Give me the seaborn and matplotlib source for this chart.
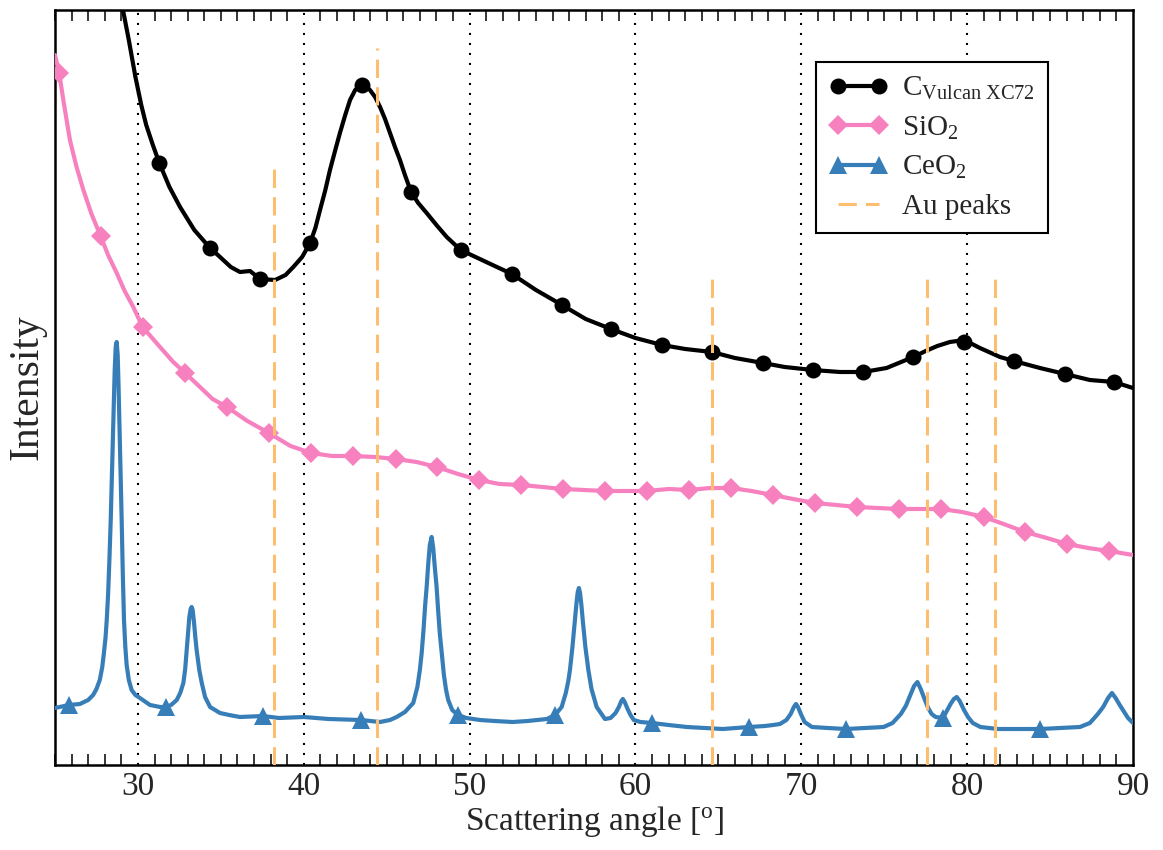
import matplotlib
matplotlib.use("Agg")
import matplotlib.pyplot as plt
import seaborn as sns
import pandas as pd
from matplotlib.lines import Line2D
from matplotlib.ticker import MultipleLocator

# ---------------- data ----------------
# C Vulcan XC72
c_x = [25.0, 26.0, 27.0, 28.0, 28.5, 29.1, 29.45, 29.85, 30.2, 30.5, 30.9, 31.29, 31.9,
       32.54, 33.4, 34.35, 34.95, 35.6, 36.15, 36.76, 37.36, 38.27, 38.9, 39.37, 39.9,
       40.38, 40.7, 40.98, 41.3, 41.58, 41.9, 42.18, 42.5, 42.79, 43.1, 43.49, 43.75,
       43.99, 44.3, 44.6, 44.9, 45.2, 45.5, 45.8, 46.1, 46.47, 46.9, 47.41, 48.0, 48.62,
       49.46, 51.0, 52.55, 54.0, 55.57, 57.0, 58.52, 60.0, 61.6, 63.0, 64.61, 66.0, 67.69,
       69.0, 70.7, 72.33, 73.74, 75.14, 76.75, 77.5, 78.2, 78.96, 79.4, 79.81, 80.3,
       80.77, 81.98, 82.82, 84.39, 85.9, 87.4, 88.85, 90.0]
c_y = [1500, 1250, 1050, 890, 820, 755, 725, 688, 660, 640, 620, 602, 578,
       558, 535, 517, 508, 498, 493, 494, 486, 485, 490, 498, 508,
       522, 537, 555, 575, 595, 615, 632, 650, 665, 675, 680, 679,
       675, 668, 658, 646, 632, 618, 605, 590, 573, 562, 552, 540, 528,
       515, 503, 491, 475, 460, 446, 436, 427, 420, 416, 413, 407, 402,
       398, 395, 393, 393, 397, 408, 414, 419, 423, 424, 423, 421,
       417, 408, 404, 397, 391, 385, 383, 377]
c_marks = [31.29, 34.35, 37.36, 40.38, 43.49, 46.47, 49.46, 52.55, 55.57, 58.52, 61.6,
           64.61, 67.69, 70.7, 73.74, 76.75, 79.81, 82.82, 85.9, 88.85]

# SiO2
s_x = [25.0, 25.25, 25.55, 25.9, 26.3, 26.71, 27.2, 27.75, 28.2, 28.72, 29.2, 29.72, 30.28,
       31.33, 32.13, 32.85, 33.74, 34.5, 35.37, 36.6, 37.9, 39.2, 40.44, 41.7, 42.97,
       44.3, 45.56, 46.8, 48.03, 49.3, 50.57, 51.8, 53.1, 54.4, 55.63, 56.9, 58.16, 59.4,
       60.69, 62.0, 63.23, 64.5, 65.76, 67.0, 68.29, 69.5, 70.82, 72.1, 73.36, 74.6,
       75.89, 77.2, 78.42, 79.7, 81.01, 82.2, 83.49, 84.8, 86.02, 87.3, 88.55, 90.0]
s_y = [710, 692, 660, 625, 598, 575, 551, 529, 510, 492, 474, 458, 438,
       418, 403, 392, 378, 366, 358, 344, 332, 319, 312, 309, 309,
       308, 306, 303, 298, 291, 285, 281, 280, 278, 276, 275, 274, 274,
       274, 276, 275, 277, 277, 274, 270, 266, 262, 260, 258, 257,
       256, 256, 256, 253, 248, 241, 233, 227, 221, 217, 214, 210]
s_marks = [25.25, 27.75, 30.28, 32.85, 35.37, 37.9, 40.44, 42.97, 45.56, 48.03, 50.57,
           53.1, 55.63, 58.16, 60.69, 63.23, 65.76, 68.29, 70.82, 73.36, 75.89, 78.42,
           81.01, 83.49, 86.02, 88.55]

# CeO2
e_x = [25.0, 25.84, 26.5, 27.0, 27.3, 27.5, 27.7, 27.85, 27.95, 28.05, 28.12, 28.2, 28.28,
       28.36, 28.44, 28.52, 28.6, 28.66, 28.72, 28.78, 28.83, 28.88, 28.95, 29.02, 29.09,
       29.16, 29.24, 29.32, 29.45, 29.62, 29.85, 30.12, 30.73, 31.33, 31.69, 32.0, 32.34,
       32.55, 32.74, 32.85, 32.94, 33.02, 33.1, 33.18, 33.24, 33.3, 33.38, 33.46, 33.54,
       33.7, 33.85, 34.05, 34.35, 34.95, 35.5, 36.15, 37.54, 38.5, 40.0, 41.5, 43.45,
       44.6, 45.2, 45.6, 46.1, 46.6, 46.85, 47.0, 47.11, 47.22, 47.32, 47.41, 47.5, 47.6,
       47.71, 47.8, 47.9, 48.01, 48.1, 48.2, 48.32, 48.45, 48.58, 48.71, 48.95, 49.3,
       49.8, 50.63, 51.5, 52.6, 53.5, 54.66, 55.15, 55.55, 55.8, 55.95, 56.05, 56.2,
       56.35, 56.45, 56.52, 56.59, 56.66, 56.74, 56.82, 56.98, 57.16, 57.35, 57.66,
       58.16, 58.5, 58.8, 59.0, 59.15, 59.24, 59.35, 59.5, 59.7, 59.9, 60.3, 61.0, 62.0,
       63.1, 64.2, 65.27, 66.84, 67.8, 68.3, 68.71, 69.1, 69.36, 69.55, 69.68, 69.8,
       70.0, 70.2, 70.64, 71.6, 72.69, 73.8, 74.96, 75.5, 76.0, 76.3, 76.55, 76.8, 77.0,
       77.2, 77.43, 77.65, 77.86, 78.1, 78.54, 78.8, 79.0, 79.2, 79.37, 79.55, 79.81,
       80.05, 80.34, 80.8, 81.85, 83.0, 84.39, 85.6, 86.8, 87.4, 87.88, 88.2, 88.5,
       88.73, 88.95, 89.2, 89.39, 89.7, 90.0]
e_y = [57, 60, 61, 65, 70, 76, 85, 98, 112, 128, 145, 170, 205,
       245, 295, 345, 395, 418, 423, 410, 380, 345, 295, 245, 190,
       145, 118, 100, 85, 75, 70, 67, 60, 58, 58, 60, 65,
       72, 82, 96, 115, 132, 148, 156, 158, 155, 143, 128, 115,
       95, 82, 68, 58, 52, 50, 48, 49, 47, 48, 46, 45,
       43, 45, 48, 53, 62, 78, 95, 112, 135, 160, 178, 200, 220,
       228, 218, 198, 178, 155, 132, 112, 90, 75, 65, 55, 50,
       47, 45, 44, 43, 44, 46, 50, 58, 72, 84, 95, 118,
       145, 163, 173, 177, 172, 160, 145, 118, 95, 76, 58,
       46, 47, 52, 58, 64, 66, 63, 57, 50, 45, 43, 42, 40,
       38, 37, 36, 38, 39, 40, 41, 45, 51, 58, 61, 58,
       50, 43, 38, 37, 36, 37, 38, 42, 51, 59, 69, 79, 83,
       76, 66, 57, 51, 48, 47, 55, 61, 66, 68, 64, 55,
       48, 42, 38, 36, 36, 36, 37, 38, 42, 51, 58, 67,
       72, 67, 60, 55, 47, 42]
e_marks = [25.84, 31.69, 37.54, 43.45, 49.3, 55.15, 61.0, 66.84, 72.69, 78.54, 84.39]

# Au reference peaks
au_x = [38.2, 44.4, 64.6, 77.6, 81.7]
au_h = [597, 717, 490, 490, 490]

grid_x = [30, 40, 50, 60, 70, 80]
labels = [r"C$_{\rm Vulcan\ XC72}$", r"SiO$_2$", r"CeO$_2$", "Au peaks"]

# ---------------- style ----------------
sns.set_style("ticks")
plt.rcParams['font.family'] = ['Liberation Serif', 'DejaVu Serif']
plt.rcParams['mathtext.fontset'] = 'custom'
plt.rcParams['mathtext.rm'] = 'Liberation Serif'
plt.rcParams['mathtext.it'] = 'Liberation Serif:italic'
plt.rcParams['mathtext.bf'] = 'Liberation Serif:bold'

col_c = "black"
col_s = "#f781bf"
col_e = "#377eb8"
col_au = "#fdbf6f"

fig = plt.figure(figsize=(11.63, 8.5), dpi=100)
ax = fig.add_axes([55 / 1163, 85 / 850, 1078 / 1163, 755 / 850])

for g in grid_x:
    ax.axvline(g, color="black", ls=(0, (1, 3.8)), lw=1.5, zorder=1)

series = [
    (c_x, c_y, c_marks, col_c, "o", 11.5),
    (s_x, s_y, s_marks, col_s, "D", 10.5),
    (e_x, e_y, e_marks, col_e, "^", 13.5),
]
handles = []
for xs, ys, marks, col, mk, ms in series:
    df = pd.DataFrame({"x": xs, "y": ys})
    idx = [xs.index(m) for m in marks]
    sns.lineplot(data=df, x="x", y="y", sort=False, estimator=None, color=col,
                 lw=3, marker=mk, markersize=ms, markevery=idx, mec=col, mfc=col,
                 mew=0, ax=ax, legend=False, zorder=3)
    handles.append(Line2D([], [], color=col, lw=3, marker=mk, markersize=ms,
                          mec=col, mfc=col, mew=0))

ax.vlines(au_x, 0, au_h, colors=col_au, linestyles=(0, (6, 3)), lw=2.2, zorder=4)
handles.append(Line2D([], [], color=col_au, lw=2.2, ls=(0, (6, 3))))

ax.set_xlim(25, 90)
ax.set_ylim(0, 755)
ax.xaxis.set_major_locator(MultipleLocator(10))
ax.xaxis.set_minor_locator(MultipleLocator(1))
ax.tick_params(axis="x", which="minor", direction="in", length=8, width=1.3,
               top=True, bottom=True)
ax.tick_params(axis="x", which="major", direction="in", length=0, labelsize=24,
               pad=5, top=True, bottom=True)
ax.set_yticks([])
for sp in ax.spines.values():
    sp.set_linewidth(1.8)
    sp.set_color("black")

ax.set_xlabel(r"Scattering angle [$^{\rm o}$]", fontsize=24, labelpad=1)
ax.set_ylabel("Intensity", fontsize=30, labelpad=6)

leg = ax.legend(handles, labels, loc="upper right", bbox_to_anchor=(0.921, 0.931),
                borderaxespad=0, fontsize=21, frameon=True, fancybox=False,
                edgecolor="black", framealpha=1, handlelength=2.0, numpoints=2,
                labelspacing=0.42, borderpad=0.45, handletextpad=0.5)
leg.get_frame().set_linewidth(1.5)

fig.savefig("out.png", dpi=100)
